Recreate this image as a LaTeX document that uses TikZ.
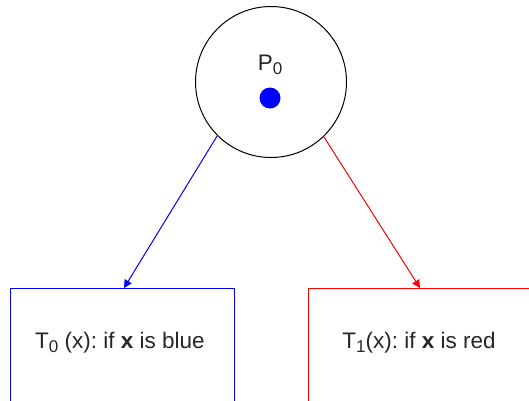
\documentclass[tikz,border=0pt]{standalone}
\usepackage{fontspec}
\setmainfont{Liberation Sans}
\usetikzlibrary{arrows.meta}
\frenchspacing
\newcommand{\mysub}[1]{\raisebox{-0.35ex}{\fontsize{17}{18}\selectfont #1}}
\begin{document}
\begin{tikzpicture}[x=1pt,y=-1pt,
  place/.style={circle,draw=black,line width=1pt,minimum size=151pt,inner sep=0pt},
  token/.style={circle,fill=blue,minimum size=21pt,inner sep=0pt},
  trans/.style={rectangle,line width=1pt,minimum height=130pt,anchor=north west,inner sep=0pt},
  lbl/.style={font=\fontsize{22.5}{26}\selectfont,text=black!85,anchor=base,inner sep=0pt},
  arr/.style={line width=1pt,-{Triangle[length=8pt,width=8pt]}}]
\useasboundingbox (0,0) rectangle (529,400);
\clip (0,0) rectangle (529,400);
\node[place] (p0) at (271,82) {};
\node[token] (tok) at (270,98) {};
\node[lbl] (plbl) at (270,70) {P\mysub{0}};
\node[trans,draw=blue,minimum width=224pt] (t0) at (10,288) {};
\node[trans,draw=red,minimum width=240pt] (t1) at (308,288) {};
\node[lbl] (t0lbl) at (120,348) {T\mysub{0} (x): if \textbf{x} is blue};
\node[lbl] (t1lbl) at (419,348) {T\mysub{1}(x): if \textbf{x} is red};
\coordinate (t0top) at (124,288);
\coordinate (t1top) at (420,288);
\draw[arr,blue] (p0.-135) -- (t0top);
\draw[arr,red] (p0.-46) -- (t1top);
\end{tikzpicture}
\end{document}
